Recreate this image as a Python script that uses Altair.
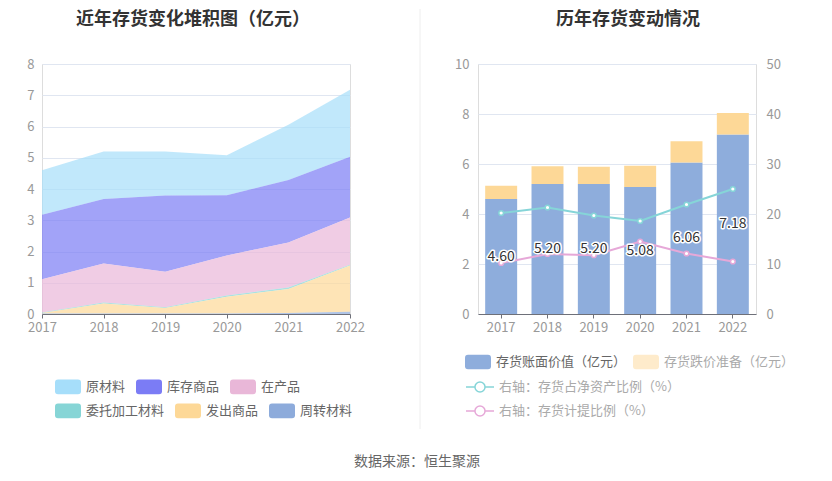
import altair as alt
import pandas as pd

FONT = "Noto Sans CJK SC"

# ---------------- data ----------------
years = ["2017", "2018", "2019", "2020", "2021", "2022"]

series_names = ["原材料", "库存商品", "在产品", "委托加工材料", "发出商品", "周转材料"]
raw_material = [1.42, 1.52, 1.41, 1.28, 1.77, 2.15]
stock_goods = [2.07, 2.06, 2.44, 1.93, 2.00, 1.94]
wip = [1.06, 1.25, 1.13, 1.28, 1.44, 1.51]
consigned = [0.02, 0.03, 0.03, 0.04, 0.05, 0.03]
shipped = [0.01, 0.32, 0.17, 0.53, 0.77, 1.48]
turnover = [0.02, 0.02, 0.02, 0.02, 0.03, 0.07]
stack_order = [5, 4, 3, 2, 1, 0]

book_value = [4.60, 5.20, 5.20, 5.08, 6.06, 7.18]
provision = [0.53, 0.71, 0.69, 0.85, 0.85, 0.86]
net_asset_ratio = [20.2, 21.3, 19.7, 18.6, 21.9, 25.0]
provision_ratio = [10.2, 12.0, 11.75, 14.5, 12.1, 10.5]

bar_names = ["存货账面价值（亿元）", "存货跌价准备（亿元）"]
line_names = ["右轴：存货占净资产比例（%）", "右轴：存货计提比例（%）"]

row1_names = series_names[:3]
row2_names = series_names[3:]
row1_colors = ["#A6DEFA", "#7B7CF5", "#E9B7D8"]
row2_colors = ["#86D5D6", "#FDD897", "#8DABDB"]

rows = []
for name, vals, order in zip(series_names,
                             [raw_material, stock_goods, wip, consigned, shipped, turnover],
                             stack_order):
    for yr, v in zip(years, vals):
        rows.append({"year": yr, "series": name, "value": v, "order": order})
left_df = pd.DataFrame(rows)

right_df = pd.DataFrame({"year": years, "book": book_value, "prov": provision})
line_rows = []
for name, vals in zip(line_names, [net_asset_ratio, provision_ratio]):
    for yr, v in zip(years, vals):
        line_rows.append({"year": yr, "name": name, "val": v})
line_df = pd.DataFrame(line_rows)

# ---------------- helpers ----------------
rect_path = ("M-0.77,-0.56H0.77Q1,-0.56 1,-0.33V0.33Q1,0.56 0.77,0.56H-0.77"
             "Q-1,0.56 -1,0.33V-0.33Q-1,-0.56 -0.77,-0.56Z")
line_path = ("M-1,0H-0.36M0.36,0H1M0.36,0A0.36,0.36 0 1 1 -0.36,0"
             "A0.36,0.36 0 1 1 0.36,0Z")


def hlegend(x, y, label_color="#666", sym_opacity=1):
    return alt.Legend(title=None, orient="none", legendX=x, legendY=y,
                      direction="horizontal", symbolType=rect_path, symbolSize=676,
                      symbolStrokeWidth=0, symbolOpacity=sym_opacity,
                      labelFontSize=13, labelColor=label_color, labelFont=FONT,
                      labelOffset=5, columnPadding=10, padding=0, labelLimit=300)


def text_layer(txt, x, y, size, color, weight="normal"):
    return alt.Chart(pd.DataFrame({"t": [txt]})).mark_text(
        font=FONT, fontSize=size, fontWeight=weight, color=color,
        align="center", baseline="middle"
    ).encode(x=alt.value(x), y=alt.value(y), text="t:N")


axis_x_common = dict(title=None, labelAngle=0, domainColor="#6E7079", tickColor="#6E7079",
                     tickSize=4, labelPadding=3, labelColor="#999", labelFontSize=13,
                     labelFont=FONT, grid=False)

# ---------------- left chart ----------------
x_left = alt.X("year:O", scale=alt.Scale(type="point", padding=0),
               axis=alt.Axis(**axis_x_common))
y_left = alt.Y("y1:Q", stack=None, scale=alt.Scale(domain=[0, 8]),
               axis=alt.Axis(title=None, values=list(range(9)), domain=False, ticks=False,
                             gridColor="#E0E6F1", labelColor="#999", labelFontSize=13,
                             labelPadding=8, labelFont=FONT))

base_left = alt.Chart(left_df).transform_stack(
    stack="value", groupby=["year"], as_=["y0", "y1"],
    sort=[alt.SortField("order", order="ascending")]
)

area1 = base_left.transform_filter(
    alt.FieldOneOfPredicate(field="series", oneOf=row1_names)
).mark_area(opacity=0.7, interpolate="linear").encode(
    x=x_left, y=y_left, y2="y0:Q",
    color=alt.Color("series:N", scale=alt.Scale(domain=row1_names, range=row1_colors),
                    legend=hlegend(13, 309.5))
)
area2 = base_left.transform_filter(
    alt.FieldOneOfPredicate(field="series", oneOf=row2_names)
).mark_area(opacity=0.7, interpolate="linear").encode(
    x=x_left, y=y_left, y2="y0:Q",
    fill=alt.Fill("series:N", scale=alt.Scale(domain=row2_names, range=row2_colors),
                  legend=hlegend(13, 333.5))
)

left_title = text_layer("近年存货变化堆积图（亿元）", 151, -44, 18, "#333", "bold")
source_text = text_layer("数据来源：恒生聚源", 375, 398, 14, "#666")
anchor = alt.Chart(pd.DataFrame({"a": [0]})).mark_rule(opacity=0).encode(
    x=alt.value(-33), y=alt.value(-55), y2=alt.value(0))

left = alt.layer(area1, area2, left_title, source_text, anchor).properties(width=308, height=250)

# ---------------- right chart ----------------
x_right = alt.X("year:O", scale=alt.Scale(type="band", paddingInner=0.31, paddingOuter=0.155),
                axis=alt.Axis(**axis_x_common))

y_bar = alt.Y("book:Q", scale=alt.Scale(domain=[0, 10]),
              axis=alt.Axis(title=None, values=[0, 2, 4, 6, 8, 10], domain=False, ticks=False,
                            gridColor="#E0E6F1", labelColor="#999", labelFontSize=13,
                            labelPadding=9, labelFont=FONT))

bars_blue = alt.Chart(right_df).transform_calculate(
    name="'" + bar_names[0] + "'"
).mark_bar().encode(
    x=x_right, y=y_bar,
    color=alt.Color("name:N", scale=alt.Scale(domain=[bar_names[0]], range=["#8EADDC"]),
                    legend=hlegend(-13, 285))
)
bars_orange = alt.Chart(right_df).transform_calculate(
    top="datum.book + datum.prov", name="'" + bar_names[1] + "'"
).mark_bar().encode(
    x=x_right, y=alt.Y("book:Q"), y2="top:Q",
    fill=alt.Fill("name:N", scale=alt.Scale(domain=[bar_names[1]], range=["#FDD897"]),
                  legend=hlegend(155, 285, label_color="#AAA", sym_opacity=0.5))
)
bars_group = alt.layer(bars_blue, bars_orange)

y_line = alt.Y("val:Q", scale=alt.Scale(domain=[0, 50]),
               axis=alt.Axis(title=None, orient="right", values=[0, 10, 20, 30, 40, 50],
                             domain=False, ticks=False, grid=False, labelColor="#999",
                             labelFontSize=13, labelPadding=10, labelFont=FONT))
line_colors = ["#86D5D8", "#E6A8D8"]
vlegend = alt.Legend(title=None, orient="none", legendX=-13, legendY=308, direction="vertical",
                     symbolType=line_path, symbolSize=784, symbolStrokeWidth=1.5,
                     symbolFillColor="white", symbolOpacity=0.6, labelFontSize=13,
                     labelColor="#AAA", labelFont=FONT, labelOffset=4, rowPadding=-2,
                     padding=0, labelLimit=300)
lines = alt.Chart(line_df).mark_line(strokeWidth=2).encode(
    x=x_right, y=y_line,
    stroke=alt.Stroke("name:N", scale=alt.Scale(domain=line_names, range=line_colors),
                      legend=vlegend)
)
points = alt.Chart(line_df).mark_point(filled=True, fill="white", size=22, strokeWidth=1.5,
                                       opacity=1).encode(
    x=x_right, y=alt.Y("val:Q"), stroke=alt.Stroke("name:N")
)
lines_group = alt.layer(lines, points)

y_lab = alt.Y("mid:Q", scale=alt.Scale(domain=[0, 10]), axis=None)
label_halo = alt.Chart(right_df).transform_calculate(mid="datum.book / 2").mark_text(
    font=FONT, fontSize=14, fill="white", stroke="white", strokeWidth=3, strokeJoin="round"
).encode(x=x_right, y=y_lab, text=alt.Text("book:Q", format=".2f"))
label_text = alt.Chart(right_df).transform_calculate(mid="datum.book / 2").mark_text(
    font=FONT, fontSize=14, fill="#333"
).encode(x=x_right, y=y_lab, text=alt.Text("book:Q", format=".2f"))
labels_group = alt.layer(label_halo, label_text)

divider = alt.Chart(pd.DataFrame({"a": [0]})).mark_rule(color="#EEEEEE", strokeWidth=1).encode(
    x=alt.value(-58), y=alt.value(-55), y2=alt.value(365))
right_title = text_layer("历年存货变动情况", 150, -44, 18, "#333", "bold")

right = alt.layer(bars_group, lines_group, labels_group, divider, right_title).resolve_scale(
    y="independent"
).properties(width=278, height=250)

chart = alt.hconcat(left, right, spacing=128, bounds="flush").resolve_scale(
    color="independent", fill="independent", stroke="independent"
).resolve_legend(
    color="independent", fill="independent", stroke="independent"
).properties(
    padding=0
).configure_view(strokeWidth=0).configure(font=FONT)

chart.save("out.html", embed_options={"renderer": "svg", "actions": False})
